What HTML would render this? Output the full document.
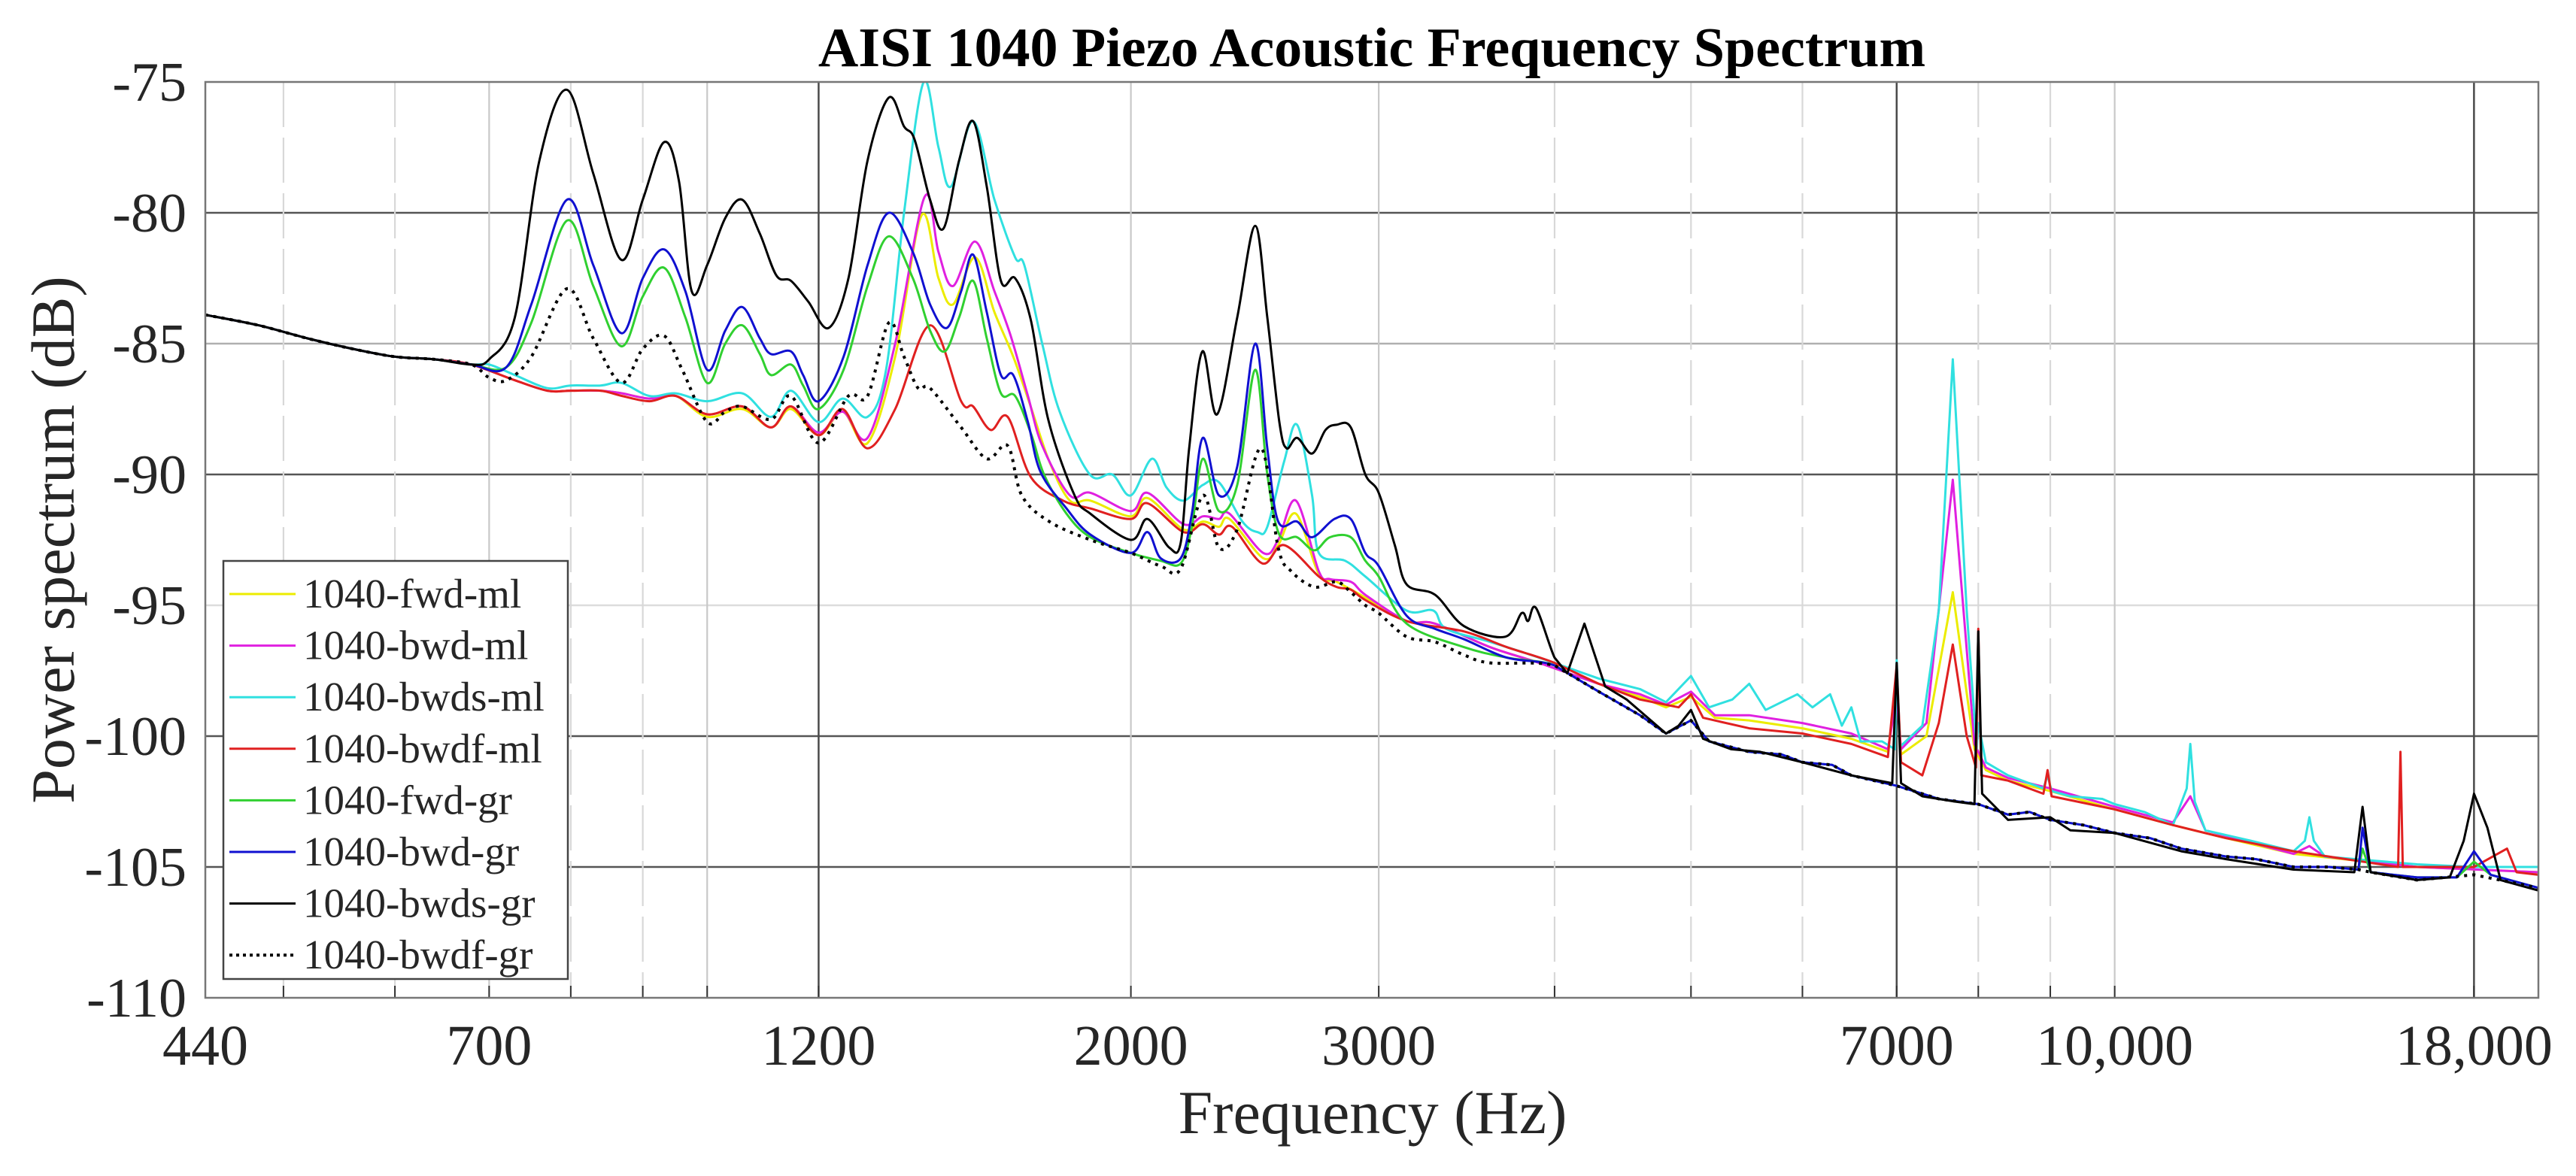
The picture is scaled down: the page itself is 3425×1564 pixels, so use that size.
<!DOCTYPE html>
<html><head><meta charset="utf-8"><style>
html,body{margin:0;padding:0;background:#fff;}
svg{display:block;}
text{font-family:"Liberation Serif",serif;fill:#262626;}
</style></head><body>
<svg id="chart" width="3425" height="1564" viewBox="0 0 3425 1564" xmlns="http://www.w3.org/2000/svg">
<rect width="3425" height="1564" fill="#fff"/>
<g id="grid"></g>
<g id="ticks"></g>
<g id="series" clip-path="url(#clip)"></g>
<defs><clipPath id="clip"><rect x="273" y="109" width="3102" height="1218"/></clipPath></defs>
<rect x="273" y="109" width="3102" height="1218" fill="none" stroke="#777" stroke-width="2.5"/>
<text x="1824" y="88" text-anchor="middle" font-size="74" font-weight="bold" style="fill:#000">AISI 1040 Piezo Acoustic Frequency Spectrum</text>
<text x="1825" y="1507" text-anchor="middle" font-size="82">Frequency (Hz)</text>
<text transform="translate(98,718) rotate(-90)" text-anchor="middle" font-size="82">Power spectrum (dB)</text>
<g id="legend"></g>
</svg>
<script>
const xTickValues = [440, 700, 1200, 2000, 3000, 7000, 10000, 18000];
const xTickLabels = ["440", "700", "1200", "2000", "3000", "7000", "10,000", "18,000"];
const yTickValues = [-75, -80, -85, -90, -95, -100, -105, -110];
const yTickLabels = ["-75", "-80", "-85", "-90", "-95", "-100", "-105", "-110"];
const gridFreqs = [500, 600, 700, 800, 900, 1000, 1200, 2000, 3000, 4000, 5000, 6000, 7000, 8000, 9000, 10000, 18000];
const seriesNames = ["1040-fwd-ml", "1040-bwd-ml", "1040-bwds-ml", "1040-bwdf-ml", "1040-fwd-gr", "1040-bwd-gr", "1040-bwds-gr", "1040-bwdf-gr"];

const lowBase = [[440,-83.9],[480,-84.3],[520,-84.8],[560,-85.2],[600,-85.5],[640,-85.6],[680,-85.8]];
const grTail = [[4000,-97.3],[4300,-98.3],[4600,-99.2],[4800,-99.9],[5000,-99.4],[5150,-100.2],[5500,-100.6],[5800,-100.7],[6000,-101.0],[6300,-101.1],[6500,-101.5],[7000,-101.9],[7300,-102.2],[7500,-102.4],[8000,-102.6],[8400,-103.0],[8700,-102.9],[9000,-103.2],[9500,-103.4],[10000,-103.7],[10600,-103.9],[11150,-104.3],[12000,-104.6],[12600,-104.7],[13400,-105.0],[14200,-105.0],[14900,-105.1]];

const fwdMl = lowBase.concat([[730,-86.4],[770,-86.8],[800,-86.8],[840,-86.8],[870,-86.9],[910,-87.1],[950,-87.0],[1000,-87.8],[1059,-87.5],[1110,-88.2],[1147,-87.5],[1200,-88.5],[1248,-87.6],[1300,-88.8],[1360,-85.5],[1420,-80.1],[1460,-82.5],[1495,-83.5],[1550,-81.7],[1600,-83.8],[1650,-85.5],[1700,-87.5],[1750,-89.5],[1810,-91.0],[1872,-91.0],[2000,-91.6],[2055,-90.9],[2180,-92.1],[2250,-91.8],[2310,-92.0],[2350,-91.7],[2484,-93.2],[2545,-92.7],[2620,-91.5],[2720,-93.8],[2800,-94.1],[2935,-94.7],[3140,-95.6],[3290,-95.7],[3600,-96.6],[3900,-97.2],[4300,-98.0],[4600,-98.5],[4800,-98.9],[5000,-98.5],[5200,-99.3],[5500,-99.4],[6000,-99.7],[6500,-100.1],[6900,-100.6],[7000,-98.0],[7050,-100.7],[7350,-100.0],[7673,-94.5],[7950,-100.5],[8100,-101.3],[8400,-101.7],[9000,-102.1],[10000,-102.8],[11000,-103.4],[12000,-103.9],[13400,-104.5],[16400,-105.0],[20000,-105.2]]);
const bwdMl = lowBase.concat([[730,-86.4],[770,-86.8],[800,-86.8],[840,-86.8],[870,-86.9],[910,-87.1],[950,-87.0],[1000,-87.7],[1059,-87.4],[1110,-88.2],[1147,-87.4],[1200,-88.4],[1248,-87.6],[1300,-88.6],[1360,-85.0],[1427,-79.4],[1460,-81.5],[1495,-82.8],[1550,-81.1],[1600,-83.0],[1643,-84.7],[1690,-87.0],[1730,-88.9],[1810,-90.8],[1872,-90.7],[2000,-91.4],[2055,-90.7],[2180,-91.9],[2250,-91.6],[2310,-91.7],[2350,-91.5],[2484,-93.0],[2545,-92.5],[2620,-91.0],[2720,-93.7],[2770,-94.0],[2866,-94.1],[2935,-94.6],[3140,-95.6],[3290,-95.7],[3600,-96.6],[3900,-97.2],[4300,-98.0],[4600,-98.4],[4800,-98.8],[5000,-98.3],[5200,-99.2],[5500,-99.2],[6000,-99.5],[6500,-99.9],[6900,-100.5],[7000,-98.5],[7050,-100.5],[7350,-99.5],[7673,-90.2],[7950,-100.3],[8100,-101.2],[8400,-101.6],[9000,-102.0],[10000,-102.7],[11000,-103.3],[11317,-102.3],[11600,-103.6],[13400,-104.5],[13750,-104.2],[14100,-104.6],[16400,-105.0],[20000,-105.2]]);
const bwdsMl = lowBase.concat([[700,-85.8],[730,-86.2],[770,-86.7],[800,-86.6],[840,-86.6],[869,-86.5],[910,-87.0],[950,-86.9],[1000,-87.2],[1059,-86.9],[1110,-87.8],[1147,-86.8],[1200,-88.0],[1248,-87.1],[1300,-87.8],[1340,-86.0],[1380,-80.0],[1425,-75.0],[1460,-77.5],[1490,-79.0],[1545,-76.5],[1600,-79.5],[1655,-81.7],[1680,-82.0],[1730,-85.0],[1780,-87.6],[1870,-90.0],[1940,-90.0],[2000,-90.8],[2070,-89.4],[2120,-90.5],[2180,-91.0],[2250,-90.4],[2310,-90.3],[2400,-91.8],[2460,-92.2],[2500,-92.0],[2570,-89.5],[2625,-88.1],[2690,-90.8],[2720,-93.0],[2840,-93.3],[2935,-93.9],[3140,-95.2],[3280,-95.2],[3350,-95.9],[3600,-96.4],[3900,-97.0],[4300,-97.8],[4600,-98.2],[4800,-98.7],[5000,-97.7],[5150,-98.9],[5350,-98.6],[5500,-98.0],[5650,-99.0],[5950,-98.4],[6100,-98.9],[6278,-98.4],[6400,-99.6],[6500,-98.9],[6600,-100.2],[6834,-100.2],[6980,-100.5],[7000,-97.1],[7040,-100.4],[7300,-99.6],[7500,-95.2],[7673,-85.6],[7850,-95.2],[7980,-100.5],[8000,-99.5],[8100,-101.0],[8400,-101.5],[8900,-102.0],[8960,-101.5],[9020,-102.1],[9300,-102.3],[9800,-102.4],[10000,-102.6],[10500,-102.9],[11000,-103.4],[11250,-102.0],[11317,-100.3],[11400,-102.5],[11600,-103.6],[12500,-104.0],[13400,-104.4],[13650,-104.0],[13750,-103.1],[13850,-104.0],[14100,-104.6],[16400,-104.9],[18000,-105.0],[20000,-105.0]]);
const bwdfMl = lowBase.concat([[730,-86.4],[770,-86.8],[800,-86.8],[840,-86.8],[870,-87.0],[910,-87.2],[950,-87.0],[1000,-87.7],[1059,-87.4],[1110,-88.2],[1147,-87.4],[1200,-88.5],[1248,-87.5],[1300,-89.0],[1360,-87.5],[1440,-84.3],[1515,-87.2],[1545,-87.4],[1590,-88.3],[1635,-87.8],[1698,-90.1],[1790,-91.0],[1872,-91.3],[2000,-91.7],[2055,-91.1],[2180,-92.2],[2250,-91.9],[2310,-92.3],[2360,-92.0],[2480,-93.4],[2570,-92.7],[2720,-93.9],[2800,-94.3],[2866,-94.4],[2935,-94.8],[3140,-95.6],[3450,-96.0],[3700,-96.6],[4000,-97.2],[4300,-98.0],[4600,-98.6],[4900,-98.9],[5000,-98.4],[5100,-99.3],[5500,-99.7],[6000,-99.9],[6500,-100.3],[6900,-100.8],[7000,-97.3],[7050,-101.0],[7300,-101.5],[7500,-99.5],[7673,-96.5],[7850,-100.0],[7970,-101.2],[8000,-95.9],[8040,-101.5],[8400,-101.7],[8900,-102.2],[8960,-101.3],[9020,-102.3],[10000,-102.8],[11000,-103.4],[12000,-103.9],[13400,-104.4],[15900,-105.0],[15960,-100.6],[16020,-105.0],[18000,-105.0],[19000,-104.3],[19300,-105.2],[20000,-105.3]]);
const fwdGr = lowBase.concat([[720,-85.9],[750,-84.2],[795,-80.3],[830,-82.8],[869,-85.1],[900,-83.2],[932,-82.1],[965,-84.0],[1000,-86.5],[1030,-85.0],[1059,-84.3],[1090,-85.4],[1110,-86.2],[1147,-85.8],[1170,-86.6],[1200,-87.5],[1250,-86.0],[1300,-82.8],[1346,-80.9],[1400,-82.5],[1440,-84.5],[1475,-85.3],[1510,-84.0],[1545,-82.6],[1580,-84.8],[1617,-86.9],[1655,-87.0],[1700,-88.5],[1735,-90.0],[1800,-91.5],[1872,-92.4],[2000,-93.0],[2100,-93.3],[2170,-93.4],[2210,-92.0],[2250,-89.4],[2310,-91.4],[2380,-90.4],[2451,-86.0],[2500,-90.0],[2550,-92.3],[2625,-92.4],[2700,-92.9],[2770,-92.4],[2866,-92.4],[2935,-93.3],[3000,-93.9],[3140,-95.7],[3450,-96.6],[3700,-97.0]]).concat(grTail).concat([[15000,-104.3],[15200,-105.2],[16400,-105.4],[17500,-105.4],[18000,-104.8],[18500,-105.3],[20000,-105.8]]);
const bwdGr = lowBase.concat([[720,-85.9],[750,-83.5],[795,-79.5],[830,-82.0],[869,-84.6],[900,-82.5],[932,-81.4],[965,-83.0],[1000,-86.0],[1030,-84.5],[1059,-83.6],[1090,-84.8],[1110,-85.4],[1147,-85.3],[1170,-86.2],[1200,-87.2],[1250,-85.5],[1300,-82.0],[1346,-80.0],[1400,-81.5],[1440,-83.5],[1480,-84.4],[1515,-83.0],[1545,-81.6],[1580,-83.8],[1617,-86.2],[1650,-86.2],[1690,-88.0],[1725,-89.9],[1800,-91.3],[1872,-92.3],[2000,-93.0],[2055,-92.2],[2100,-93.2],[2170,-93.2],[2210,-91.5],[2250,-88.6],[2310,-90.8],[2380,-89.7],[2451,-85.0],[2500,-89.0],[2545,-91.8],[2625,-91.8],[2690,-92.4],[2790,-91.7],[2866,-91.7],[2935,-93.0],[3000,-93.5],[3140,-95.4],[3290,-95.9],[3450,-96.3],[3700,-97.0]]).concat(grTail).concat([[15000,-103.5],[15200,-105.2],[16400,-105.4],[17500,-105.4],[18000,-104.4],[18500,-105.3],[20000,-105.8]]);
const bwdsGr = lowBase.concat([[700,-85.6],[730,-84.0],[760,-78.0],[795,-75.3],[830,-78.5],[869,-81.8],[900,-79.5],[932,-77.3],[955,-78.8],[975,-83.0],[1000,-82.0],[1030,-80.2],[1059,-79.5],[1090,-80.8],[1120,-82.4],[1147,-82.6],[1180,-83.4],[1220,-84.4],[1260,-82.5],[1300,-78.0],[1346,-75.6],[1380,-76.7],[1404,-77.2],[1440,-79.5],[1472,-80.6],[1510,-78.0],[1545,-76.5],[1580,-79.0],[1617,-82.6],[1655,-82.5],[1698,-84.1],[1747,-87.9],[1824,-90.8],[1872,-91.5],[2000,-92.5],[2055,-91.7],[2130,-92.8],[2170,-92.6],[2200,-89.0],[2248,-85.3],[2303,-87.7],[2380,-84.0],[2451,-80.5],[2500,-84.0],[2550,-88.0],[2580,-89.0],[2625,-88.6],[2690,-89.2],[2750,-88.3],[2800,-88.1],[2866,-88.2],[2935,-90.0],[3000,-90.7],[3080,-92.7],[3140,-94.2],[3290,-94.6],[3450,-95.8],[3690,-96.2],[3790,-95.3],[3830,-95.6],[3880,-95.1],[4000,-97.0],[4084,-97.6],[4200,-95.7],[4345,-98.1],[4500,-98.6],[4800,-99.9],[4900,-99.6],[5000,-99.0],[5100,-100.1],[5338,-100.5],[5600,-100.6],[6000,-101.0],[6500,-101.5],[6950,-101.8],[7000,-97.2],[7050,-101.8],[7300,-102.3],[7700,-102.5],[7950,-102.6],[8000,-96.0],[8050,-102.2],[8400,-103.2],[9000,-103.1],[9300,-103.6],[10000,-103.7],[11150,-104.4],[12000,-104.7],[13400,-105.1],[14800,-105.2],[15000,-102.7],[15200,-105.2],[16400,-105.5],[17300,-105.4],[17700,-104.0],[18000,-102.2],[18400,-103.5],[18800,-105.5],[20000,-105.9]]);
const bwdfGr = lowBase.concat([[700,-86.3],[720,-86.4],[750,-85.5],[795,-82.9],[830,-84.8],[869,-86.5],[900,-85.2],[932,-84.7],[960,-86.0],[1000,-88.0],[1030,-87.6],[1059,-87.4],[1110,-87.9],[1147,-87.0],[1200,-88.8],[1260,-87.0],[1300,-87.0],[1346,-84.2],[1380,-85.5],[1412,-86.7],[1440,-86.7],[1515,-88.2],[1580,-89.4],[1635,-88.9],[1673,-90.8],[1750,-91.8],[1872,-92.5],[2000,-93.0],[2100,-93.5],[2170,-93.6],[2250,-90.8],[2310,-92.8],[2380,-92.1],[2475,-89.0],[2545,-92.8],[2600,-93.7],[2700,-94.3],[2800,-94.1],[2866,-94.5],[2935,-95.0],[3000,-95.3],[3140,-96.2],[3290,-96.4],[3450,-96.9],[3600,-97.2]]).concat(grTail).concat([[15200,-105.2],[16400,-105.5],[18000,-105.3],[20000,-105.8]]);

const seriesData = [fwdMl, bwdMl, bwdsMl, bwdfMl, fwdGr, bwdGr, bwdsGr, bwdfGr];
const seriesColors = ["#ecec00", "#e020e0", "#30e0e0", "#e02020", "#30d030", "#1010d0", "#000000", "#000000"];

const X0 = 273, X1 = 3375, Y0 = 109, Y1 = 1327;
const FMIN = 440, FMAX = 20000, DBMAX = -75, DBMIN = -110;
function xScale(f){ return X0 + (X1 - X0) * Math.log10(f / FMIN) / Math.log10(FMAX / FMIN); }
function yScale(v){ return Y0 + (Y1 - Y0) * (DBMAX - v) / (DBMAX - DBMIN); }
const NS = "http://www.w3.org/2000/svg";
function mk(tag, attrs, parent){ const e = document.createElementNS(NS, tag); for (const k in attrs) e.setAttribute(k, attrs[k]); parent.appendChild(e); return e; }

const grid = document.getElementById('grid');
const ticks = document.getElementById('ticks');
const darkY = [-80, -90, -100, -105];
yTickValues.forEach((v, i) => {
  const y = yScale(v);
  if (!(v > DBMAX - 0.1 || v < DBMIN + 0.1)) {
    const ln = mk('line', {x1: X0, x2: X1, y1: y, y2: y, stroke: darkY.includes(v) ? '#555' : (v === -85 ? '#b0b0b0' : '#dcdcdc'), 'stroke-width': 2.5}, grid);
    
    
  }
  const t = mk('text', {x: 248, y: y + 25, 'text-anchor': 'end', 'font-size': 74}, ticks);
  t.textContent = yTickLabels[i];
  
  
});
const darkX = [1200, 7000, 18000];
const solidX = [700, 1000, 2000, 3000, 10000];
gridFreqs.forEach(f => {
  const x = xScale(f);
  const dark = darkX.includes(f), solid = solidX.includes(f);
  const attrs = {x1: x, x2: x, y1: Y0, y2: Y1, stroke: dark ? '#4a4a4a' : (solid ? '#c8c8c8' : '#d8d8d8'), 'stroke-width': dark ? 2.5 : 2.2};
  if (!dark && !solid) attrs['stroke-dasharray'] = '60 14';
  const ln = mk('line', attrs, grid);
  
  
  const tk = mk('line', {x1: x, x2: x, y1: Y1, y2: Y1 - 16, stroke: '#333', 'stroke-width': 2}, ticks);
  
  
});
xTickValues.forEach((f, i) => {
  const t = mk('text', {x: xScale(f), y: 1416, 'text-anchor': 'middle', 'font-size': 76}, ticks);
  t.textContent = xTickLabels[i];
  
  
});

function buildPath(pts){
  const P = pts.map(p => [xScale(p[0]), yScale(p[1]), p[0]]);
  let d = 'M' + P[0][0].toFixed(1) + ' ' + P[0][1].toFixed(1);
  for (let j = 0; j < P.length - 1; j++) {
    const a = P[j], b = P[j + 1];
    if (b[2] <= 4000) {
      const p0 = P[Math.max(0, j - 1)], p3 = P[Math.min(P.length - 1, j + 2)];
      const c1x = a[0] + (b[0] - p0[0]) / 6, c1y = a[1] + (b[1] - p0[1]) / 6;
      const c2x = b[0] - (p3[0] - a[0]) / 6, c2y = b[1] - (p3[1] - a[1]) / 6;
      d += ' C' + c1x.toFixed(1) + ' ' + c1y.toFixed(1) + ' ' + c2x.toFixed(1) + ' ' + c2y.toFixed(1) + ' ' + b[0].toFixed(1) + ' ' + b[1].toFixed(1);
    } else {
      d += ' L' + b[0].toFixed(1) + ' ' + b[1].toFixed(1);
    }
  }
  return d;
}

const sg = document.getElementById('series');
seriesData.forEach((pts, i) => {
  const attrs = {d: buildPath(pts), fill: 'none', stroke: seriesColors[i], 'stroke-width': i === 7 ? 4 : 3, 'stroke-linejoin': 'round'};
  if (i === 7) attrs['stroke-dasharray'] = '4 7';
  const p = mk('path', attrs, sg);
  
  
});

const lg = document.getElementById('legend');
const box = mk('rect', {x: 297, y: 746, width: 458, height: 556, fill: '#fff', stroke: '#444', 'stroke-width': 2.5}, lg);


seriesNames.forEach((n, i) => {
  const cy = 790 + i * 68.6;
  const la = {x1: 305, x2: 393, y1: cy, y2: cy, stroke: seriesColors[i], 'stroke-width': i === 7 ? 4 : 3};
  if (i === 7) la['stroke-dasharray'] = '4 5';
  const l = mk('line', la, lg);
  
  
  const t = mk('text', {x: 403, y: cy + 18, 'font-size': 55}, lg);
  t.textContent = n;
  
  
});
</script>
</body></html>
